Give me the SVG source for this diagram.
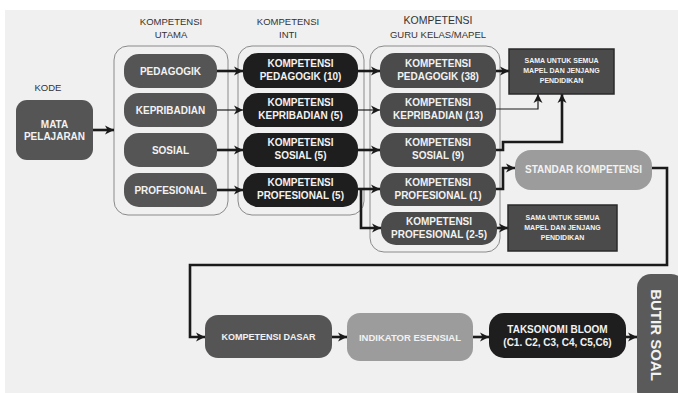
<svg xmlns="http://www.w3.org/2000/svg" width="678" height="393" viewBox="0 0 678 393">
<defs>
<marker id="ah" markerUnits="userSpaceOnUse" markerWidth="10" markerHeight="10" refX="9" refY="5" orient="auto">
<path d="M0,0.5 L9,5 L0,9.5 L2.5,5 z" fill="#1a1a1a"/>
</marker>
<style>
.bg{fill:#f0f0f0}
.cont{fill:none;stroke:#8a8a8a;stroke-width:1}
.p1{fill:#555}
.p2{fill:#1e1e1e}
.p3{fill:#4b4b4b}
.lt{fill:#9c9c9c}
.sq{fill:#4b4b4b;stroke:#2a2a2a;stroke-width:1.5}
.t{font-family:"Liberation Sans",Arial,sans-serif;font-weight:bold;fill:#f2f2f2;text-anchor:middle}
.tt{font-family:"Liberation Sans",Arial,sans-serif;fill:#333;text-anchor:middle;font-size:9.5px}
.s{font-size:10px}
.xs{font-size:7px}
.c{fill:none;stroke:#1a1a1a;stroke-width:2.6;marker-end:url(#ah)}
.cn{fill:none;stroke:#1a1a1a;stroke-width:1.2;marker-end:url(#ah)}
.cp{fill:none;stroke:#1a1a1a;stroke-width:2.6}
</style>
</defs>
<rect class="bg" x="5" y="10" width="673" height="383"/>

<g id="titles">
<text class="tt" x="48" y="91">KODE</text>
<text class="tt" x="171" y="25">KOMPETENSI</text>
<text class="tt" x="171" y="38">UTAMA</text>
<text class="tt" x="288" y="25">KOMPETENSI</text>
<text class="tt" x="288" y="38">INTI</text>
<text class="tt" x="438" y="24" style="font-size:10.5px">KOMPETENSI</text>
<text class="tt" x="438" y="38">GURU KELAS/MAPEL</text>
</g>

<g id="containers">
<rect class="cont" x="114" y="46" width="114" height="169" rx="14"/>
<rect class="cont" x="238" y="46" width="126" height="169" rx="14"/>
<rect class="cont" x="370" y="46" width="130" height="206" rx="14"/>
</g>

<g id="connectors">
<path class="c" d="M93,130 H114"/>
<path class="c" d="M217,71 H243"/>
<path class="cn" d="M217,110 H243"/>
<path class="c" d="M217,150 H243"/>
<path class="c" d="M217,190 H243"/>
<path class="c" d="M358,71 H380"/>
<path class="cn" d="M358,110 H380"/>
<path class="c" d="M358,150 H380"/>
<path class="c" d="M358,189 H380"/>
<path class="c" d="M361,189 V228 H381"/>
<path class="c" d="M496,71 H509"/>
<path class="cn" d="M496,109 H538 V94"/>
<path class="c" d="M496,150 H503 V142 H562 V94"/>
<path class="c" d="M496,189 H503 V168 H515"/>
<path class="c" d="M497,228 H508"/>
<path class="c" d="M652,168 H667 V265 H190 V337 H205"/>
<path class="c" d="M332,337 H347"/>
<path class="c" d="M473,337 H489"/>
<path class="c" d="M626,337 H637"/>
</g>

<g id="mata-pelajaran">
<rect class="p1" x="16" y="100" width="77" height="60" rx="11"/>
<text class="t s" x="54.5" y="128">MATA</text>
<text class="t s" x="54.5" y="140">PELAJARAN</text>
</g>

<g id="pedagogik"><rect class="p1" x="124" y="54" width="93" height="34" rx="15"/><text class="t s" x="170.5" y="75">PEDAGOGIK</text></g>
<g id="kepribadian"><rect class="p1" x="124" y="93" width="93" height="34" rx="15"/><text class="t s" x="170.5" y="114">KEPRIBADIAN</text></g>
<g id="sosial"><rect class="p1" x="124" y="133" width="93" height="34" rx="15"/><text class="t s" x="170.5" y="154">SOSIAL</text></g>
<g id="profesional"><rect class="p1" x="124" y="173" width="93" height="34" rx="15"/><text class="t s" x="170.5" y="194">PROFESIONAL</text></g>

<g id="ki-pedagogik"><rect class="p2" x="243" y="53" width="115" height="35" rx="15"/><text class="t s" x="300.5" y="67">KOMPETENSI</text><text class="t s" x="300.5" y="80">PEDAGOGIK (10)</text></g>
<g id="ki-kepribadian"><rect class="p2" x="243" y="93" width="115" height="34" rx="15"/><text class="t s" x="300.5" y="106">KOMPETENSI</text><text class="t s" x="300.5" y="119">KEPRIBADIAN (5)</text></g>
<g id="ki-sosial"><rect class="p2" x="243" y="133" width="115" height="34" rx="15"/><text class="t s" x="300.5" y="146">KOMPETENSI</text><text class="t s" x="300.5" y="159">SOSIAL (5)</text></g>
<g id="ki-profesional"><rect class="p2" x="243" y="173" width="115" height="34" rx="15"/><text class="t s" x="300.5" y="186">KOMPETENSI</text><text class="t s" x="300.5" y="199">PROFESIONAL (5)</text></g>

<g id="kg-pedagogik"><rect class="p3" x="380" y="53" width="116" height="35" rx="15"/><text class="t s" x="438" y="67">KOMPETENSI</text><text class="t s" x="438" y="80">PEDAGOGIK (38)</text></g>
<g id="kg-kepribadian"><rect class="p3" x="380" y="93" width="116" height="34" rx="15"/><text class="t s" x="438" y="106">KOMPETENSI</text><text class="t s" x="438" y="119">KEPRIBADIAN (13)</text></g>
<g id="kg-sosial"><rect class="p3" x="380" y="133" width="116" height="34" rx="15"/><text class="t s" x="438" y="146">KOMPETENSI</text><text class="t s" x="438" y="159">SOSIAL (9)</text></g>
<g id="kg-profesional1"><rect class="p3" x="380" y="173" width="116" height="33" rx="15"/><text class="t s" x="438" y="186">KOMPETENSI</text><text class="t s" x="438" y="199">PROFESIONAL (1)</text></g>
<g id="kg-profesional25"><rect class="p3" x="381" y="212" width="116" height="33" rx="15"/><text class="t s" x="439" y="225">KOMPETENSI</text><text class="t s" x="439" y="238">PROFESIONAL (2-5)</text></g>

<g id="sama1"><rect class="sq" x="509" y="49" width="105" height="45"/>
<text class="t xs" x="561.5" y="63">SAMA UNTUK SEMUA</text><text class="t xs" x="561.5" y="73">MAPEL DAN JENJANG</text><text class="t xs" x="561.5" y="83">PENDIDIKAN</text></g>

<g id="sama2"><rect class="sq" x="508" y="205" width="109" height="46"/>
<text class="t xs" x="562.5" y="220">SAMA UNTUK SEMUA</text><text class="t xs" x="562.5" y="230">MAPEL DAN JENJANG</text><text class="t xs" x="562.5" y="240">PENDIDIKAN</text></g>

<g id="standar-kompetensi"><rect class="lt" x="515" y="150" width="137" height="40" rx="16"/><text class="t s" x="583.5" y="173">STANDAR KOMPETENSI</text></g>

<g id="kompetensi-dasar"><rect class="p1" x="205" y="315" width="127" height="43" rx="13"/><text class="t" style="font-size:9px" x="268.5" y="340">KOMPETENSI DASAR</text></g>
<g id="indikator-esensial"><rect class="lt" x="347" y="313" width="126" height="48" rx="13"/><text class="t" style="font-size:9.5px" x="410" y="341">INDIKATOR ESENSIAL</text></g>
<g id="taksonomi-bloom"><rect class="p2" x="489" y="313" width="137" height="45" rx="15"/><text class="t s" x="557.5" y="333">TAKSONOMI BLOOM</text><text class="t s" x="557.5" y="346">(C1. C2, C3, C4, C5,C6)</text></g>
<g id="butir-soal"><rect fill="#5a5a5a" x="637" y="274" width="48" height="130" rx="14"/><text class="t" style="font-size:15px" transform="translate(651,335) rotate(90)" x="0" y="0">BUTIR SOAL</text></g>
</svg>
